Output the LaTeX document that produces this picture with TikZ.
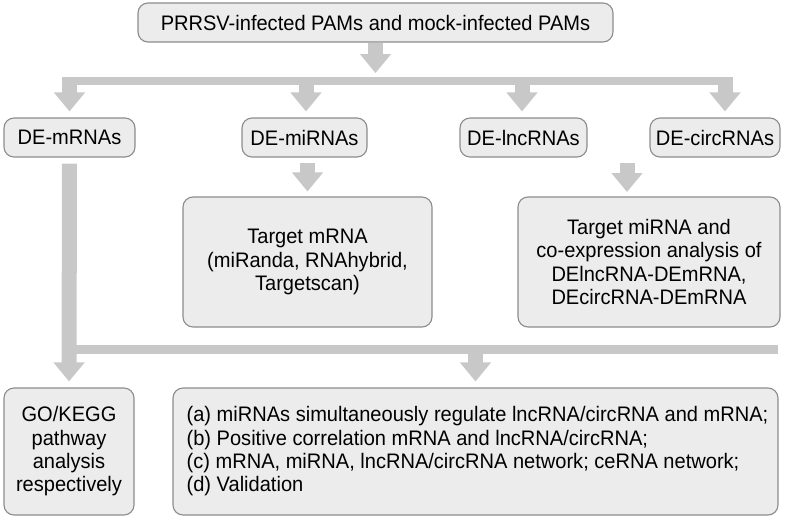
\documentclass[tikz,border=0pt]{standalone}
\usepackage{fontspec}
\setmainfont[FakeStretch=0.955]{Liberation Sans}
\usetikzlibrary{arrows.meta}
\definecolor{boxfill}{HTML}{ECECEC}
\definecolor{boxline}{HTML}{8C8C8C}
\definecolor{arrgray}{HTML}{C8C8C8}
\begin{document}
\begin{tikzpicture}[x=1pt,y=-1pt,
  box/.style={draw=boxline, fill=boxfill, line width=1.1pt, rounded corners=10pt,
    inner sep=0pt, font=\fontsize{21}{23.3}\selectfont, align=center},
  txt/.style={inner sep=0pt, font=\fontsize{21}{23.3}\selectfont, align=left},
  bar/.style={draw=arrgray, line width=8.5pt},
  arr/.style={draw=arrgray, line width=15pt, -{Triangle[width=30pt,length=19pt]}}]
\useasboundingbox (0,0) rectangle (785,520);

% boxes
\node[box, minimum width=475pt, minimum height=39pt] (top) at (375.5,22.5) {PRRSV-infected PAMs and mock-infected PAMs};
\node[box, minimum width=131pt, minimum height=39pt] (dem) at (69.5,137.5) {DE-mRNAs};
\node[box, minimum width=125pt, minimum height=39pt] (demi) at (304.5,137.5) {DE-miRNAs};
\node[box, minimum width=127pt, minimum height=39pt] (delnc) at (523.5,137.5) {DE-lncRNAs};
\node[box, minimum width=130pt, minimum height=39pt] (decirc) at (715,137.5) {DE-circRNAs};
\node[box, minimum width=249pt, minimum height=130pt] (tmrna) at (307.5,262) {Target mRNA\\(miRanda, RNAhybrid,\\Targetscan)};
\node[box, minimum width=262pt, minimum height=130pt] (tmirna) at (649,262) {Target miRNA and\\co-expression analysis of\\DElncRNA-DEmRNA,\\DEcircRNA-DEmRNA};
\node[box, minimum width=130pt, minimum height=127pt] (go) at (69,451.5) {GO/KEGG\\pathway\\analysis\\respectively};
\node[box, minimum width=605pt, minimum height=127pt] (big) at (475.5,451.5) {};
\node[txt, anchor=west] (bigtext) at ([xshift=14pt]big.west) {(a) miRNAs simultaneously regulate lncRNA/circRNA and mRNA;\\(b) Positive correlation mRNA and lncRNA/circRNA;\\(c) mRNA, miRNA, lncRNA/circRNA network; ceRNA network;\\(d) Validation};

% coordinates of bars
\coordinate (b1l) at (62,81);
\coordinate (b1r) at (733,81);
\coordinate (b2l) at (69.5,349.5);
\coordinate (b2r) at (778,349.5);
\coordinate (c1) at (306,77);
\coordinate (c2) at (522,77);
\coordinate (c3) at (725,77);
\coordinate (c0) at (69.5,77);
\coordinate (cs) at (627,163);
\coordinate (ce) at (627,192);
\coordinate (m1) at (475.5,345);

% connectors
\draw[arr, shorten >=-0.5pt] (top.south) -- ++(0,30);
\draw[bar] (b1l) -- (b1r);
\draw[arr, shorten >=6pt] (c0) -- (dem.north);
\draw[arr, shorten >=6pt] (c1) -- (c1 |- demi.north);
\draw[arr, shorten >=6pt] (c2) -- (c2 |- delnc.north);
\draw[arr, shorten >=6pt] (c3) -- (c3 |- decirc.north);
\draw[arr, shorten <=5pt, shorten >=5pt] (tmrna.north |- demi.south) -- (tmrna.north);
\draw[arr] (cs) -- (ce);
\draw[arr, shorten <=6pt, shorten >=6pt] (dem.south) -- (go.north);
\draw[bar] (b2l) -- (b2r);
\draw[arr, shorten >=6pt] (m1) -- (big.north);
\end{tikzpicture}
\end{document}
